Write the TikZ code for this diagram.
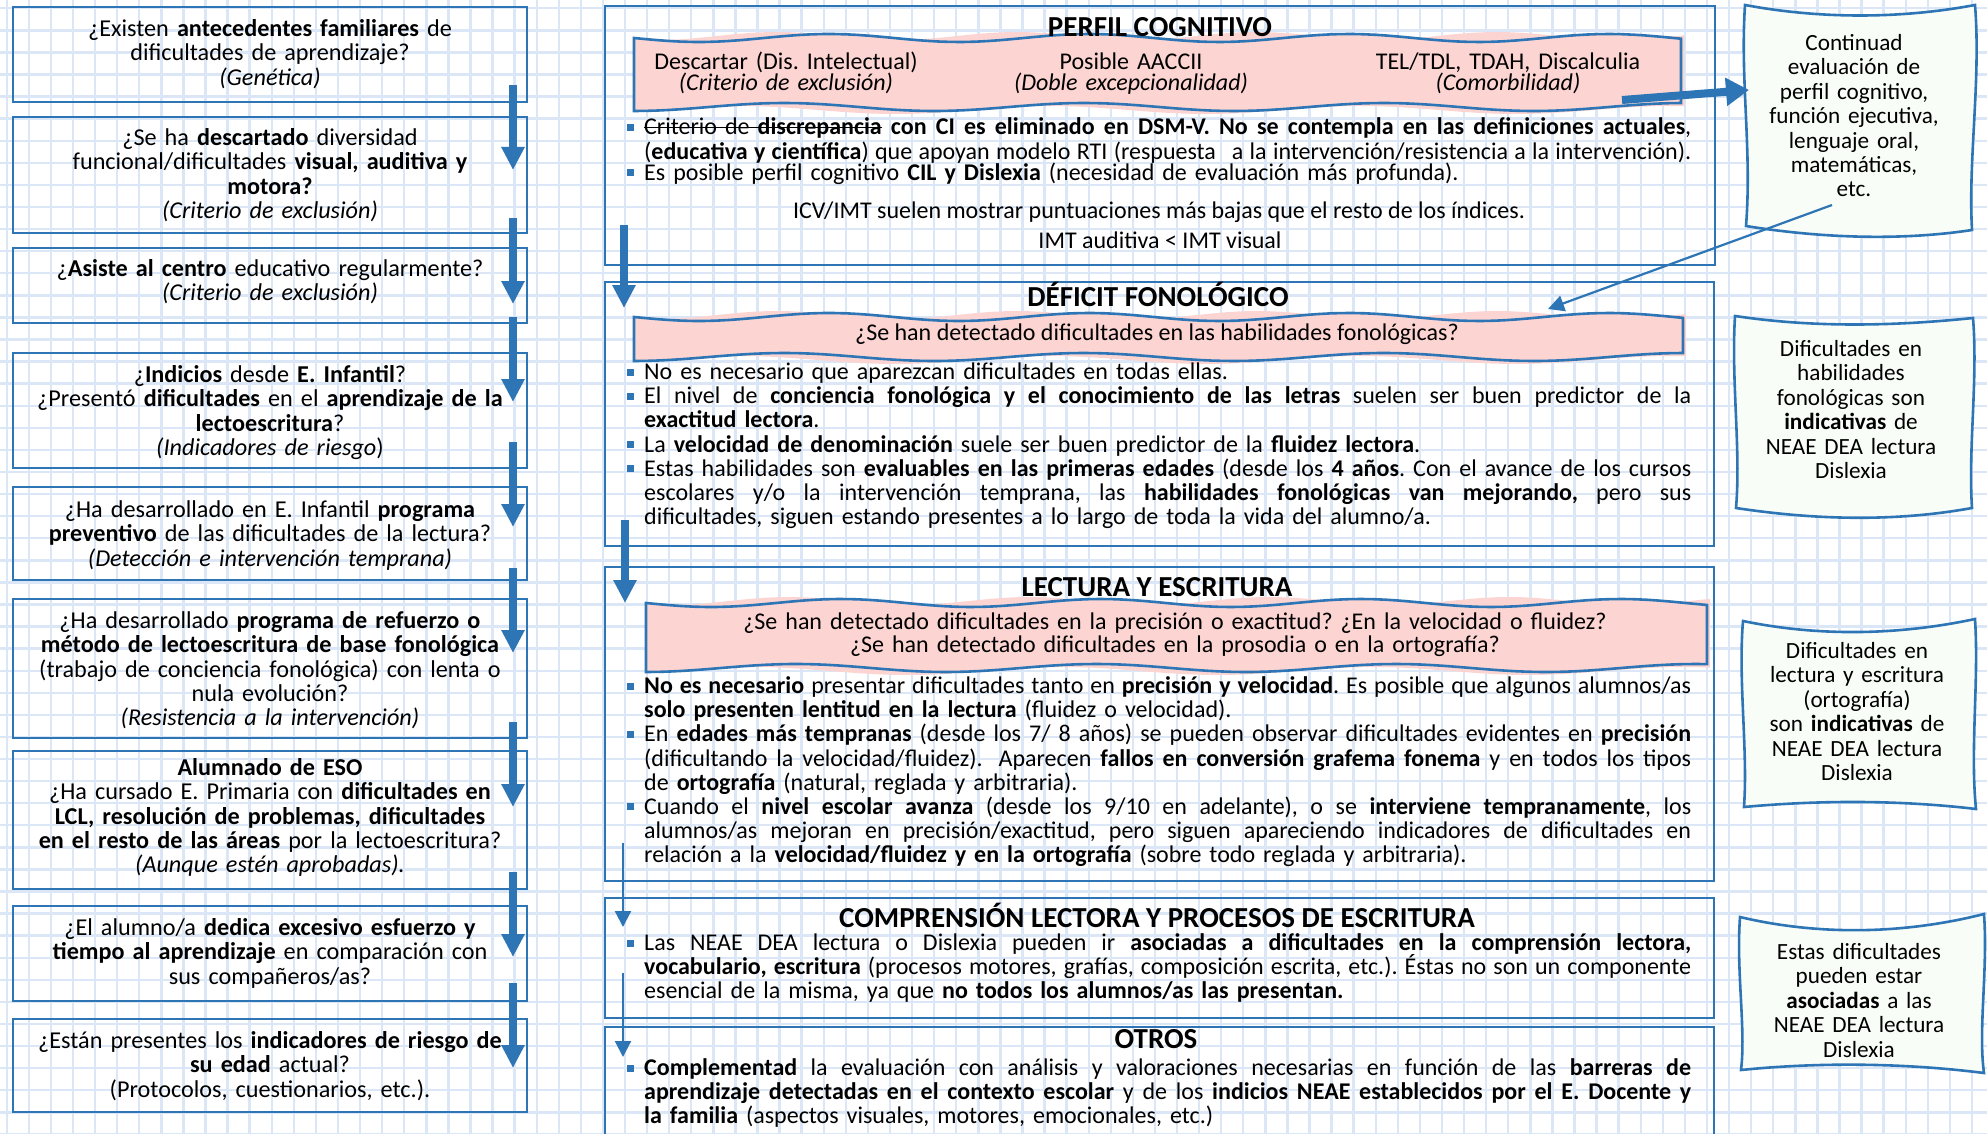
\documentclass[tikz,border=0pt]{standalone}
\usepackage{fontspec}
\setmainfont{Carlito}
\usetikzlibrary{arrows.meta}
\definecolor{mblue}{RGB}{46,117,182}
\definecolor{gridc}{RGB}{219,231,246}
\definecolor{pinkc}{RGB}{252,213,211}
\definecolor{rfill}{RGB}{249,253,247}
\lineskiplimit=-100pt
\frenchspacing
\newcommand\bodyfnt{\fontsize{24}{24.2}\selectfont\lineskiplimit=-100pt\frenchspacing}
\newcommand\lfnt{\fontsize{24.2}{24.3}\selectfont\lineskiplimit=-100pt\frenchspacing}
\newcommand\rfnt{\fontsize{23.2}{24.4}\selectfont\lineskiplimit=-100pt\frenchspacing}
\newcommand\pfnt{\fontsize{24}{21.5}\selectfont\lineskiplimit=-100pt\frenchspacing}
\newcommand\qfnt{\fontsize{24}{23}\selectfont\lineskiplimit=-100pt\frenchspacing}
\newcommand\titfnt{\fontsize{29}{30}\selectfont\bfseries}
\def\jsplit#1 #2\jend{#1\jnext#2\jend}
\def\jnext#1\jend{\if\relax\detokenize{#1}\relax\else\hskip 0.226em plus 1fil minus 0.06em\relax\jsplit#1\jend\fi}
\newcommand\jusline[1]{\leavevmode\hbox to 1047pt{\jsplit#1 \jend}\\}
\newcommand\jusend[1]{\leavevmode\hbox to 1047pt{\jsplit#1 \jend}}
\newcommand\mystrike[1]{\setbox0\hbox{#1}\rlap{\rule[0.28em]{\wd0}{1.5pt}}\box0\relax}
\newcommand\pinkband[5]{%
 \fill[pinkc] plot[domain=#1:#2,samples=90] (\x+3,{#3-2+4*sin(1.5*(\x-#1)+60)}) -- plot[domain=#2:#1,samples=90] (\x+3,{#4+3+4*sin(1.16*(\x-#1)+150)}) -- cycle;
 \draw[mblue,line width=2.6pt,fill=pinkc] plot[domain=#1:#2,samples=90] (\x,{#3+4*sin(1.385*(\x-#1))}) -- plot[domain=#2:#1,samples=90] (\x,{#4+4*sin(1.2*(\x-#1)+90)}) -- cycle;
 \coordinate (#5) at ({(#1+#2)/2},{(#3+#4)/2});
}
\begin{document}
\begin{tikzpicture}[x=1pt,y=-1pt,
 lbox/.style={draw=mblue,line width=2.7pt,minimum width=514pt,inner sep=0pt},
 mbox/.style={draw=mblue,line width=2.7pt,minimum width=1110pt,inner sep=0pt},
 ltext/.style={text width=505pt,align=center,inner sep=0pt,anchor=base,font=\lfnt},
 rtext/.style={text width=228pt,align=center,inner sep=0pt,anchor=base,font=\rfnt},
 titl/.style={inner sep=0pt,anchor=base,font=\titfnt},
 ctext/.style={inner sep=0pt,anchor=base,font=\bodyfnt},
 ptext/.style={text width=360pt,align=center,inner sep=0pt,anchor=base,font=\pfnt},
 qtext/.style={text width=1000pt,align=center,inner sep=0pt,anchor=base,font=\qfnt},
 para/.style={text width=1047pt,inner sep=0pt,anchor=base west,font=\bodyfnt},
 bul/.style={fill=mblue,minimum size=7pt,inner sep=0pt},
 bigarr/.style={draw=mblue,line width=8pt,-{Triangle[width=22pt,length=23pt]}},
 bigarrb/.style={draw=mblue,line width=8pt,-{Triangle[width=27pt,length=23pt]}},
 thinarr/.style={draw=mblue,line width=2.2pt,-{Triangle[width=16pt,length=16pt]}},
 rshape/.style={draw=mblue,line width=2.6pt,fill=rfill},
 gridl/.style={draw=gridc,line width=2.4pt}
]
\useasboundingbox (0,0) rectangle (1987,1134);
\fill[white] (0,0) rectangle (1987,1134);
\clip (0,0) rectangle (1987,1134);
% grid
\foreach \i in {0,...,90} \draw[gridl] ({6.8+22.08*\i},0) -- ({6.8+22.08*\i},1134);
\foreach \j in {0,...,51} \draw[gridl] (0,{8.3+22.08*\j}) -- (1987,{8.3+22.08*\j});

% left boxes
\node[lbox,minimum height=95pt]  (b1) at (270,54.5) {};
\node[lbox,minimum height=116pt] (b2) at (270,175) {};
\node[lbox,minimum height=75pt]  (b3) at (270,285.5) {};
\node[lbox,minimum height=115pt] (b4) at (270,410.5) {};
\node[lbox,minimum height=93pt]  (b5) at (270,533.5) {};
\node[lbox,minimum height=139pt] (b6) at (270,668.5) {};
\node[lbox,minimum height=138pt] (b7) at (270,820) {};
\node[lbox,minimum height=95pt]  (b8) at (270,953.5) {};
\node[lbox,minimum height=93pt]  (b9) at (270,1065.5) {};

\node[ltext] (t1) at (270,36.5) {¿Existen \textbf{antecedentes familiares} de\\dificultades de aprendizaje?\\\textit{(Genética)}};
\node[ltext] (t2) at (270,145.5) {¿Se ha \textbf{descartado} diversidad\\funcional/dificultades \textbf{visual, auditiva y}\\\textbf{motora?}\\\textit{(Criterio de exclusión)}};
\node[ltext] (t3) at (270,276.5) {¿\textbf{Asiste al centro} educativo regularmente?\\\textit{(Criterio de exclusión)}};
\node[ltext] (t4) at (270,382.5) {¿\textbf{Indicios} desde \textbf{E. Infantil}?\\¿Presentó \textbf{dificultades} en el \textbf{aprendizaje de la}\\\textbf{lectoescritura}?\\\textit{(Indicadores de riesgo})};
\node[ltext] (t5) at (270,517.5) {¿Ha desarrollado en E. Infantil \textbf{programa}\\\textbf{preventivo} de las dificultades de la lectura?\\\textit{(Detección e intervención temprana)}};
\node[ltext] (t6) at (270,628.5) {¿Ha desarrollado \textbf{programa de refuerzo o}\\\textbf{método de lectoescritura de base fonológica}\\(trabajo de conciencia fonológica) con lenta o\\nula evolución?\\\textit{(Resistencia a la intervención)}};
\node[ltext] (t7) at (270,775.5) {\textbf{Alumnado de ESO}\\¿Ha cursado E. Primaria con \textbf{dificultades en}\\\textbf{LCL, resolución de problemas, dificultades}\\\textbf{en el resto de las áreas} por la lectoescritura?\\\textit{(Aunque estén aprobadas).}};
\node[ltext] (t8) at (270,935.5) {¿El alumno/a \textbf{dedica excesivo esfuerzo y}\\\textbf{tiempo al aprendizaje} en comparación con\\sus compañeros/as?};
\node[ltext] (t9) at (270,1048.5) {¿Están presentes los \textbf{indicadores de riesgo de}\\\textbf{su edad} actual?\\(Protocolos, cuestionarios, etc.).};

% middle boxes
\node[mbox,minimum height=259pt] (perfil) at (1160,135.5) {};
\node[mbox,minimum height=264pt,minimum width=1109pt] (deficit) at (1159.5,414) {};
\node[mbox,minimum height=314pt,minimum width=1109pt] (lectura) at (1159.5,724) {};
\node[mbox,minimum height=120pt,minimum width=1109pt] (compr) at (1159.5,958) {};
\node[mbox,minimum height=130pt,minimum width=1109pt] (otros) at (1159.5,1092) {};

\pinkband{634}{1681}{38}{107}{pkA}
\pinkband{634}{1683}{317}{357}{pkB}
\pinkband{646}{1707}{603}{668}{pkC}

% right shapes
\draw[rshape] (1745,5) .. controls (1820,19) and (1900,19) .. (1975,5) .. controls (1981,80) and (1968,160) .. (1972,230) .. controls (1900,241) and (1820,238) .. (1746,226) .. controls (1752,150) and (1740,80) .. (1745,5) -- cycle;
\draw[rshape] (1735,316) .. controls (1815,328) and (1895,326) .. (1973,318) .. controls (1978,380) and (1968,450) .. (1972,508) .. controls (1895,522) and (1815,520) .. (1736,508) .. controls (1741,450) and (1731,380) .. (1735,316) -- cycle;
\draw[rshape] (1743,621) .. controls (1820,637) and (1900,635) .. (1975,619) .. controls (1979,680) and (1970,750) .. (1976,809) .. controls (1900,800) and (1820,800) .. (1744,807) .. controls (1748,750) and (1738,680) .. (1743,621) -- cycle;
\draw[rshape] (1740,917) .. controls (1820,936) and (1905,934) .. (1984,914) .. controls (1988,970) and (1978,1030) .. (1984,1073) .. controls (1905,1063) and (1820,1062) .. (1741,1070) .. controls (1746,1030) and (1736,970) .. (1740,917) -- cycle;

\node[rtext] (r1) at (1854,50.5) {Continuad\\evaluación de\\perfil cognitivo,\\función ejecutiva,\\lenguaje oral,\\matemáticas,\\etc.};
\node[rtext] (r2) at (1851,356.5) {Dificultades en\\habilidades\\fonológicas son\\\textbf{indicativas} de\\NEAE DEA lectura\\Dislexia};
\node[rtext] (r3) at (1857,658.5) {Dificultades en\\lectura y escritura\\(ortografía)\\son \textbf{indicativas} de\\NEAE DEA lectura\\Dislexia};
\node[rtext] (r4) at (1859,959.5) {Estas dificultades\\pueden estar\\\textbf{asociadas} a las\\NEAE DEA lectura\\Dislexia};

% titles
\node[titl] (tp) at (1160,37) {PERFIL COGNITIVO};
\node[titl] (td) at (1158,306) {DÉFICIT FONOLÓGICO};
\node[titl] (tl) at (1157,596) {LECTURA Y ESCRITURA};
\node[titl] (tc) at (1157,927) {COMPRENSIÓN LECTORA Y PROCESOS DE ESCRITURA};
\node[titl] (to) at (1156,1048) {OTROS};

% perfil
\node[ptext] (pa1) at (786,69.5) {Descartar (Dis. Intelectual)\\\textit{(Criterio de exclusión)}};
\node[ptext] (pa2) at (1131,69.5) {Posible AACCII\\\textit{(Doble excepcionalidad)}};
\node[ptext] (pa3) at (1508,69.5) {TEL/TDL, TDAH, Discalculia\\\textit{(Comorbilidad)}};
\node[bul] (s1) at (630,127.5) {};
\node[para] (p1) at (644,135) {\jusline{\mystrike{Criterio de \textbf{discrepancia}} \bfseries con CI es eliminado en DSM-V. No se contempla en las definiciones actuales\mdseries,}\jusend{(\bfseries educativa y científica\mdseries) que apoyan modelo RTI (respuesta\ \ a la intervención/resistencia a la intervención).}};
\node[bul] (s2) at (630,173) {};
\node[para] (p2) at (644,180.5) {\mbox{Es posible perfil cognitivo \textbf{CIL y Dislexia} (necesidad de evaluación más profunda).}};
\node[ctext] (icv) at (1159,219) {ICV/IMT suelen mostrar puntuaciones más bajas que el resto de los índices.};
\node[ctext] (imt) at (1160,248) {IMT auditiva < IMT visual};

% deficit
\node[ctext] (qd) at (1157,340.5) {¿Se han detectado dificultades en las habilidades fonológicas?};
\node[bul] (s3) at (630,372) {};
\node[para] (d1) at (644,379.5) {\mbox{No es necesario que aparezcan dificultades en todas ellas.}};
\node[bul] (s4) at (630,396.2) {};
\node[para] (d2) at (644,403.7) {\jusline{El nivel de \bfseries conciencia fonológica y el conocimiento de las letras \mdseries suelen ser buen predictor de la}\mbox{\textbf{exactitud lectora}.}};
\node[bul] (s5) at (630,444.6) {};
\node[para] (d3) at (644,452.1) {\mbox{La \textbf{velocidad de denominación} suele ser buen predictor de la \textbf{fluidez lectora}.}};
\node[bul] (s6) at (630,468.8) {};
\node[para] (d4) at (644,476.3) {\jusline{Estas habilidades son \bfseries evaluables en las primeras edades \mdseries (desde los \bfseries 4 años\mdseries. Con el avance de los cursos}\jusline{escolares y/o la intervención temprana, las \bfseries habilidades fonológicas van mejorando, \mdseries pero sus}\mbox{dificultades, siguen estando presentes a lo largo de toda la vida del alumno/a.}};

% lectura
\node[qtext] (ql) at (1175,629.5) {¿Se han detectado dificultades en la precisión o exactitud? ¿En la velocidad o fluidez?\\¿Se han detectado dificultades en la prosodia o en la ortografía?};
\node[bul] (s7) at (630,686) {};
\node[para] (e1) at (644,693.5) {\jusline{\bfseries No es necesario \mdseries presentar dificultades tanto en \bfseries precisión y velocidad\mdseries. Es posible que algunos alumnos/as}\mbox{\textbf{solo presenten lentitud en la lectura} (fluidez o velocidad).}};
\node[bul] (s8) at (630,734.3) {};
\node[para] (e2) at (644,741.8) {\jusline{En \bfseries edades más tempranas \mdseries (desde los 7/ 8 años) se pueden observar dificultades evidentes en \bfseries precisión}\jusline{(dificultando la velocidad/fluidez).\ \ Aparecen \bfseries fallos en conversión grafema fonema \mdseries y en todos los tipos}\mbox{de \textbf{ortografía} (natural, reglada y arbitraria).}};
\node[bul] (s9) at (630,806.7) {};
\node[para] (e3) at (644,814.2) {\jusline{Cuando el \bfseries nivel escolar avanza \mdseries (desde los 9/10 en adelante), o se \bfseries interviene tempranamente\mdseries, los}\jusline{alumnos/as mejoran en precisión/exactitud, pero siguen apareciendo indicadores de dificultades en}\mbox{relación a la \textbf{velocidad/fluidez y en la ortografía} (sobre todo reglada y arbitraria).}};

% comprension
\node[bul] (s10) at (630,943) {};
\node[para] (c1) at (644,950.5) {\jusline{Las NEAE DEA lectura o Dislexia pueden ir \bfseries asociadas a dificultades en la comprensión lectora,}\jusline{\bfseries vocabulario, escritura \mdseries (procesos motores, grafías, composición escrita, etc.). Éstas no son un componente}\mbox{esencial de la misma, ya que \textbf{no todos los alumnos/as las presentan.}}};

% otros
\node[bul] (s11) at (630,1068) {};
\node[para] (o1) at (644,1075.5) {\jusline{\bfseries Complementad \mdseries la evaluación con análisis y valoraciones necesarias en función de las \bfseries barreras de}\jusline{\bfseries aprendizaje detectadas en el contexto escolar \mdseries y de los \bfseries indicios NEAE establecidos por el E. Docente y}\mbox{\textbf{la familia} (aspectos visuales, motores, emocionales, etc.)}};

% left arrows
\foreach \s/\e [count=\q] in {85/170,218/304,317/402,442/527,568/653,722/807,872/957,983/1068}{
  \coordinate (la\q s) at (513,\s);
  \coordinate (la\q e) at (513,\e);
  \draw[bigarr] (la\q s) -- (la\q e);
}
% middle arrows
\coordinate (ma1s) at (624,225); \coordinate (ma1e) at (624,308);
\coordinate (ma2s) at (625,520); \coordinate (ma2e) at (625,603);
\coordinate (ma3s) at (623,843); \coordinate (ma3e) at (623,927);
\coordinate (ma4s) at (623,973); \coordinate (ma4e) at (623,1057);
\draw[bigarr] (ma1s) -- (ma1e);
\draw[bigarr] (ma2s) -- (ma2e);
\draw[thinarr] (ma3s) -- (ma3e);
\draw[thinarr] (ma4s) -- (ma4e);
% right arrows
\coordinate (ra1s) at (1622,100); \coordinate (ra1e) at (1749,90);
\draw[bigarrb] (ra1s) -- (ra1e);
\coordinate (ra2s) at (1832,205); \coordinate (ra2e) at (1548,309);
\draw[thinarr] (ra2s) -- (ra2e);
\end{tikzpicture}
\end{document}
